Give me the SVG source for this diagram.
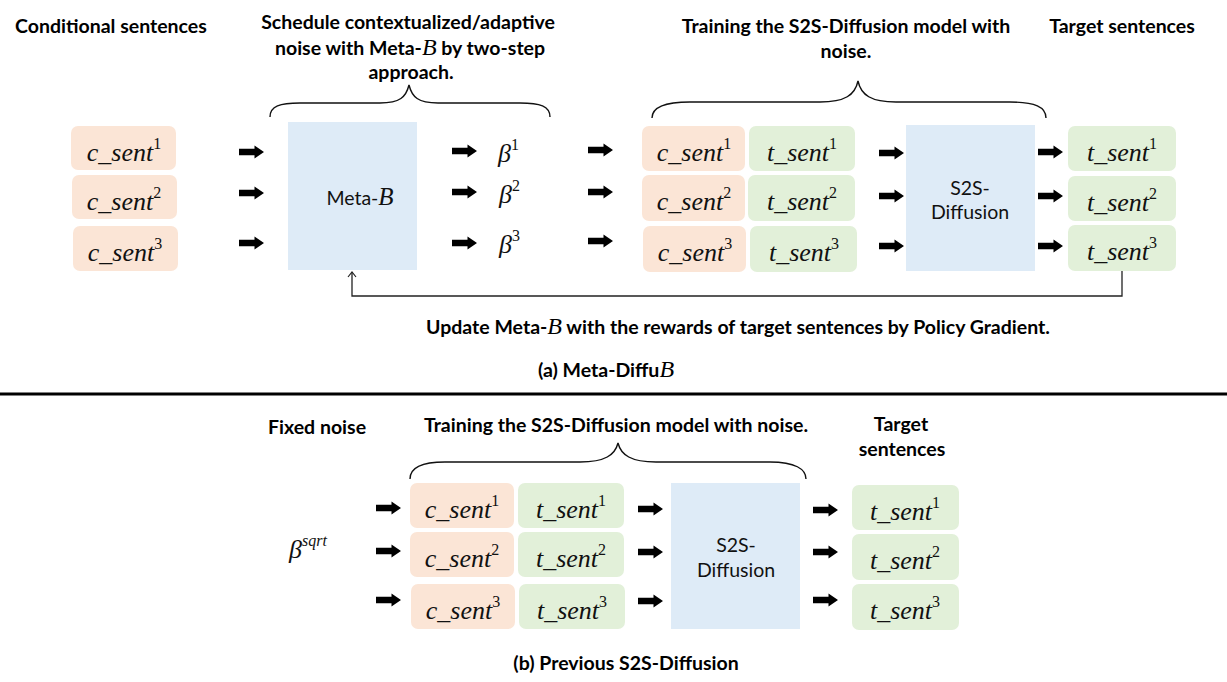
<svg xmlns="http://www.w3.org/2000/svg" xmlns:xlink="http://www.w3.org/1999/xlink" width="1227" height="682" viewBox="0 0 1227 682">
<style>
.h{font-family:Lato,"Open Sans","Liberation Sans",sans-serif;font-weight:700;font-size:19.5px;fill:#000}
.r{font-family:Lato,"Open Sans","Liberation Sans",sans-serif;font-weight:400;font-size:19.5px;fill:#111}
.m{font-family:"Liberation Serif","DejaVu Serif",serif;font-style:italic;font-weight:400;font-size:26px;fill:#111}
.s{font-family:"Liberation Serif","DejaVu Serif",serif;font-style:normal;font-size:16px}
.mi{font-family:"Liberation Serif","DejaVu Serif",serif;font-style:italic;font-weight:400}
.c{fill:#fbe5d6}
.t{fill:#e2f0d9}
.b{fill:#deebf7}
.brace{fill:none;stroke:#111;stroke-width:1.4}
.fb{fill:none;stroke:#222;stroke-width:1.3}
</style>
<defs>
<path id="arr" d="M0,-3.2 H15.5 V-6.5 L25,0 L15.5,6.5 V3.2 H0 Z" fill="#000"/>
<marker id="open" viewBox="0 0 10 10" refX="9" refY="5" markerWidth="10" markerHeight="10" markerUnits="userSpaceOnUse" orient="auto">
<path d="M4,1 L9,5 L4,9" fill="none" stroke="#222" stroke-width="1.2"/>
</marker>
</defs>
<rect width="1227" height="682" fill="#fff"/>

<!-- headings part a -->
<g id="labels-a">
<text class="h" x="15" y="33">Conditional sentences</text>
<text class="h" x="408" y="29" text-anchor="middle">Schedule contextualized/adaptive</text>
<text class="h" x="410" y="55" text-anchor="middle">noise with Meta-<tspan class="mi" font-size="24">B</tspan> by two-step</text>
<text class="h" x="411" y="79" text-anchor="middle">approach.</text>
<text class="h" x="846" y="33" text-anchor="middle">Training the S2S-Diffusion model with</text>
<text class="h" x="846" y="58" text-anchor="middle">noise.</text>
<text class="h" x="1122" y="33" text-anchor="middle">Target sentences</text>
<text class="h" x="738" y="334" text-anchor="middle">Update Meta-<tspan class="mi" font-size="24">B</tspan> with the rewards of target sentences by Policy Gradient.</text>
<text class="h" x="606" y="377" text-anchor="middle">(a) Meta-Diffu<tspan class="mi" font-size="24">B</tspan></text>
</g>

<!-- conditional sentences a -->
<g id="a-csent1"><rect class="c" x="71" y="126" width="105" height="44" rx="7"/><text class="m" x="124" y="161" text-anchor="middle">c_sent<tspan class="s" dy="-12">1</tspan></text></g>
<g id="a-csent2"><rect class="c" x="72" y="175" width="105" height="44" rx="7"/><text class="m" x="124" y="210" text-anchor="middle">c_sent<tspan class="s" dy="-12">2</tspan></text></g>
<g id="a-csent3"><rect class="c" x="73" y="226" width="105" height="45" rx="7"/><text class="m" x="125" y="261" text-anchor="middle">c_sent<tspan class="s" dy="-12">3</tspan></text></g>

<g id="a-metab"><rect class="b" x="288" y="122" width="129" height="148"/><text class="r" x="360" y="205" text-anchor="middle">Meta-<tspan class="mi" font-size="25">B</tspan></text></g>

<g id="a-beta1"><text class="m" x="498" y="162" font-size="24">β<tspan class="s" dy="-12">1</tspan></text></g>
<g id="a-beta2"><text class="m" x="499" y="203" font-size="24">β<tspan class="s" dy="-12">2</tspan></text></g>
<g id="a-beta3"><text class="m" x="499" y="253" font-size="24">β<tspan class="s" dy="-12">3</tspan></text></g>

<g id="a-pair1"><rect class="c" x="642" y="126" width="103" height="45" rx="7"/><text class="m" x="694" y="161" text-anchor="middle">c_sent<tspan class="s" dy="-12">1</tspan></text>
<rect class="t" x="749" y="126" width="106" height="45" rx="7"/><text class="m" x="802" y="161" text-anchor="middle">t_sent<tspan class="s" dy="-12">1</tspan></text></g>
<g id="a-pair2"><rect class="c" x="642" y="175" width="103" height="46" rx="7"/><text class="m" x="694" y="210" text-anchor="middle">c_sent<tspan class="s" dy="-12">2</tspan></text>
<rect class="t" x="748" y="175" width="107" height="46" rx="7"/><text class="m" x="802" y="210" text-anchor="middle">t_sent<tspan class="s" dy="-12">2</tspan></text></g>
<g id="a-pair3"><rect class="c" x="643" y="226" width="103" height="46" rx="7"/><text class="m" x="695" y="261" text-anchor="middle">c_sent<tspan class="s" dy="-12">3</tspan></text>
<rect class="t" x="750" y="226" width="107" height="46" rx="7"/><text class="m" x="804" y="261" text-anchor="middle">t_sent<tspan class="s" dy="-12">3</tspan></text></g>

<g id="a-s2s"><rect class="b" x="906" y="125" width="129" height="146"/><text class="r" x="970" y="195" text-anchor="middle">S2S-</text><text class="r" x="970" y="219" text-anchor="middle">Diffusion</text></g>

<g id="a-target1"><rect class="t" x="1068" y="126" width="108" height="45" rx="7"/><text class="m" x="1122" y="161" text-anchor="middle">t_sent<tspan class="s" dy="-12">1</tspan></text></g>
<g id="a-target2"><rect class="t" x="1068" y="176" width="108" height="45" rx="7"/><text class="m" x="1122" y="211" text-anchor="middle">t_sent<tspan class="s" dy="-12">2</tspan></text></g>
<g id="a-target3"><rect class="t" x="1068" y="225" width="108" height="46" rx="7"/><text class="m" x="1122" y="260" text-anchor="middle">t_sent<tspan class="s" dy="-12">3</tspan></text></g>

<!-- part b -->
<g id="labels-b">
<text class="h" x="268" y="434">Fixed noise</text>
<text class="h" x="616" y="432" text-anchor="middle">Training the S2S-Diffusion model with noise.</text>
<text class="h" x="901" y="431" text-anchor="middle">Target</text>
<text class="h" x="902" y="456" text-anchor="middle">sentences</text>
<text class="h" x="626" y="670" text-anchor="middle">(b) Previous S2S-Diffusion</text>
</g>

<g id="b-beta"><text class="m" x="289" y="558" font-size="24">β<tspan class="mi" font-size="16" dy="-12">sqrt</tspan></text></g>

<g id="b-pair1"><rect class="c" x="410" y="483" width="104" height="45" rx="7"/><text class="m" x="462" y="518" text-anchor="middle">c_sent<tspan class="s" dy="-12">1</tspan></text>
<rect class="t" x="518" y="483" width="106" height="45" rx="7"/><text class="m" x="571" y="518" text-anchor="middle">t_sent<tspan class="s" dy="-12">1</tspan></text></g>
<g id="b-pair2"><rect class="c" x="410" y="532" width="104" height="45" rx="7"/><text class="m" x="462" y="567" text-anchor="middle">c_sent<tspan class="s" dy="-12">2</tspan></text>
<rect class="t" x="518" y="532" width="106" height="45" rx="7"/><text class="m" x="571" y="567" text-anchor="middle">t_sent<tspan class="s" dy="-12">2</tspan></text></g>
<g id="b-pair3"><rect class="c" x="411" y="584" width="104" height="45" rx="7"/><text class="m" x="463" y="619" text-anchor="middle">c_sent<tspan class="s" dy="-12">3</tspan></text>
<rect class="t" x="519" y="584" width="106" height="45" rx="7"/><text class="m" x="572" y="619" text-anchor="middle">t_sent<tspan class="s" dy="-12">3</tspan></text></g>

<g id="b-s2s"><rect class="b" x="671" y="483" width="129" height="146"/><text class="r" x="736" y="552" text-anchor="middle">S2S-</text><text class="r" x="736" y="577" text-anchor="middle">Diffusion</text></g>

<g id="b-target1"><rect class="t" x="852" y="485" width="107" height="45" rx="7"/><text class="m" x="905" y="520" text-anchor="middle">t_sent<tspan class="s" dy="-12">1</tspan></text></g>
<g id="b-target2"><rect class="t" x="852" y="534" width="107" height="46" rx="7"/><text class="m" x="905" y="569" text-anchor="middle">t_sent<tspan class="s" dy="-12">2</tspan></text></g>
<g id="b-target3"><rect class="t" x="852" y="584" width="107" height="46" rx="7"/><text class="m" x="905" y="619" text-anchor="middle">t_sent<tspan class="s" dy="-12">3</tspan></text></g>

<!-- braces -->
<g id="braces">
<path class="brace" d="M270,117 C270,106 280,103 300,103 L380,103 C400,103 406,97 409,85 C412,97 418,103 438,103 L520,103 C540,103 550,106 550,117"/>
<path class="brace" d="M652,118 C652,107 664,102 690,102 L820,102 C845,102 855,95 858,81 C861,95 871,102 896,102 L1010,102 C1035,102 1046,107 1046,118"/>
<path class="brace" d="M410,479 C410,469 420,462 445,462 L580,462 C605,462 615,455 618,443 C621,455 631,462 656,462 L770,462 C795,462 806,469 806,479"/>
</g>

<!-- connectors -->
<g id="connectors">
<use xlink:href="#arr" x="239" y="152"/>
<use xlink:href="#arr" x="239" y="193"/>
<use xlink:href="#arr" x="239" y="243"/>
<use xlink:href="#arr" x="452" y="151"/>
<use xlink:href="#arr" x="452" y="192"/>
<use xlink:href="#arr" x="452" y="243"/>
<use xlink:href="#arr" x="588" y="150"/>
<use xlink:href="#arr" x="588" y="192"/>
<use xlink:href="#arr" x="588" y="241"/>
<use xlink:href="#arr" x="879" y="153"/>
<use xlink:href="#arr" x="879" y="196"/>
<use xlink:href="#arr" x="879" y="246"/>
<use xlink:href="#arr" x="1038" y="152"/>
<use xlink:href="#arr" x="1038" y="196"/>
<use xlink:href="#arr" x="1038" y="246"/>
<path class="fb" d="M1122,271 V296 H352 V272" marker-end="url(#open)"/>
<use xlink:href="#arr" x="376" y="508"/>
<use xlink:href="#arr" x="376" y="551"/>
<use xlink:href="#arr" x="376" y="600"/>
<use xlink:href="#arr" x="638" y="509"/>
<use xlink:href="#arr" x="638" y="552"/>
<use xlink:href="#arr" x="638" y="601"/>
<use xlink:href="#arr" x="813" y="510"/>
<use xlink:href="#arr" x="813" y="552"/>
<use xlink:href="#arr" x="813" y="600"/>
</g>

<line id="separator" x1="0" y1="394" x2="1227" y2="394" stroke="#000" stroke-width="3"/>
</svg>
